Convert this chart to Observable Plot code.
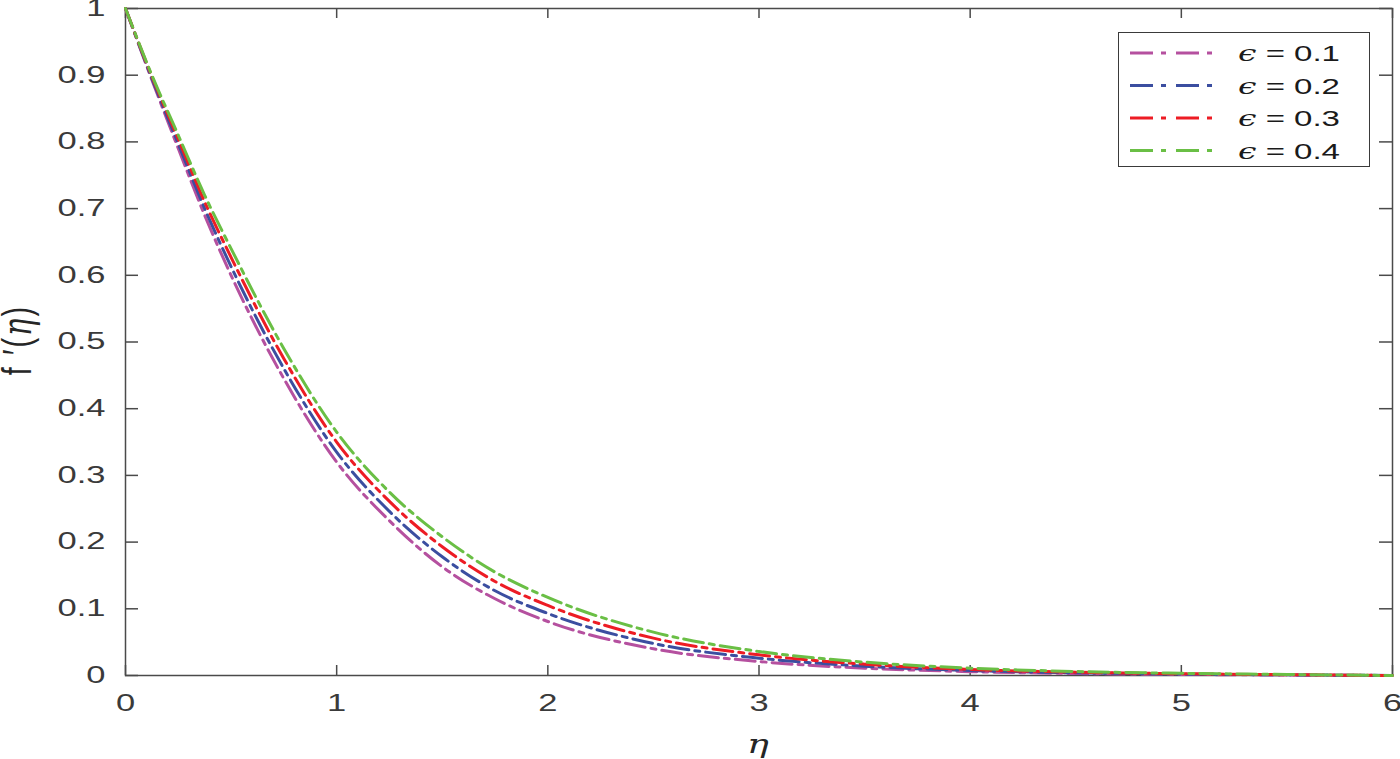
<!DOCTYPE html>
<html>
<head>
<meta charset="utf-8">
<script src="https://cdn.jsdelivr.net/npm/d3@7"></script>
<script src="https://cdn.jsdelivr.net/npm/@observablehq/plot@0.6"></script>
<style>
  body { margin: 0; background: #fff; }
  #wrap { position: relative; width: 1400px; height: 759px; font-family: "Liberation Sans", Arial, sans-serif; }
  #legend { position: absolute; left: 1118px; top: 32px; width: 252px; height: 135px; border: 1.5px solid #3a3a3a; background: #fff; box-sizing: border-box; }
  .ylab { position: absolute; left: 17px; top: 340px; transform: translate(-50%, -50%) scaleX(1.4) rotate(-90deg); font-size: 29px; letter-spacing: 2px; color: #262626; white-space: nowrap; }
  .xlab { position: absolute; left: 758px; top: 744px; transform: translate(-50%, -50%) scaleX(1.4); font-size: 26px; color: #262626; font-family: "DejaVu Serif", serif; font-style: italic; }
</style>
</head>
<body>
<div id="wrap"></div>
<script>
const eta    = [0, 0.125, 0.25, 0.375, 0.5, 0.75, 1.0, 1.25, 1.5, 1.75, 2.0, 2.5, 3.0, 3.5, 4.0, 4.5, 5.0, 5.5, 6.0];
const eps01  = [1, 0.893, 0.790, 0.690, 0.600, 0.445, 0.320, 0.232, 0.163, 0.115, 0.081, 0.040, 0.021, 0.011, 0.0058, 0.0030, 0.0016, 0.0007, 0];
const eps02  = [1, 0.895, 0.797, 0.700, 0.613, 0.460, 0.335, 0.246, 0.178, 0.127, 0.093, 0.048, 0.026, 0.014, 0.0075, 0.0040, 0.0021, 0.0010, 0];
const eps03  = [1, 0.898, 0.804, 0.710, 0.627, 0.475, 0.350, 0.261, 0.193, 0.141, 0.105, 0.056, 0.031, 0.017, 0.0090, 0.0050, 0.0027, 0.0012, 0];
const eps04  = [1, 0.900, 0.810, 0.720, 0.640, 0.490, 0.365, 0.275, 0.208, 0.155, 0.117, 0.065, 0.036, 0.020, 0.0110, 0.0060, 0.0033, 0.0015, 0];
const seriesNames = ["ϵ = 0.1", "ϵ = 0.2", "ϵ = 0.3", "ϵ = 0.4"];
const seriesColors = ["#b5509f", "#3b4ea0", "#ed1c24", "#6abf45"];
const xTicks = [0, 1, 2, 3, 4, 5, 6];
const yTicks = [0, 0.1, 0.2, 0.3, 0.4, 0.5, 0.6, 0.7, 0.8, 0.9, 1];

const allSeries = [eps01, eps02, eps03, eps04];
const rows = [];
allSeries.forEach((vals, s) => vals.forEach((v, i) => rows.push({eta: eta[i], f: v, s: seriesNames[s]})));

const W = 1400, H = 759;
const mL = 125, mR = 8, mT = 8, mB = 84;
const innerH = H - mT - mB, innerW = W - mL - mR;
const axisColor = "#4a4a4a";
const dash = "20,6,5,6";
const stretch = 1.5;

const marks = [
  Plot.frame({stroke: axisColor, strokeWidth: 1.5}),
  Plot.tickX(xTicks, {x: d => d, insetTop: innerH - 10, stroke: axisColor, strokeWidth: 1.5}),
  Plot.tickX(xTicks, {x: d => d, insetBottom: innerH - 10, stroke: axisColor, strokeWidth: 1.5}),
  Plot.tickY(yTicks, {y: d => d, insetRight: innerW - 13, stroke: axisColor, strokeWidth: 1.5}),
  Plot.tickY(yTicks, {y: d => d, insetLeft: innerW - 13, stroke: axisColor, strokeWidth: 1.5}),
  Plot.axisX({ticks: xTicks, tickSize: 0, tickPadding: 19, tickFormat: d => String(d), fontSize: 23, color: "#3a3a3a"}),
  Plot.axisY({ticks: yTicks, tickSize: 0, tickPadding: 20, tickFormat: d => String(d), fontSize: 23, color: "#3a3a3a"}),
];
seriesNames.forEach((name, k) => {
  marks.push(Plot.line(rows.filter(r => r.s === name), {
    x: "eta", y: "f", stroke: seriesColors[k], strokeWidth: 3,
    strokeDasharray: dash, curve: "monotone-x"
  }));
});

const chart = Plot.plot({
  width: W, height: H,
  marginLeft: mL, marginRight: mR, marginTop: mT, marginBottom: mB,
  x: {domain: [0, 6], label: null},
  y: {domain: [0, 1], label: null},
  style: {fontFamily: "'Liberation Sans', Arial, sans-serif", fontSize: "23px", background: "#fff", overflow: "visible"},
  marks
});
const wrap = document.getElementById("wrap");
wrap.appendChild(chart);

// the reference's glyphs are horizontally stretched: widen tick labels via textLength
function widen(el) {
  try {
    const w = el.getComputedTextLength();
    if (w > 0) {
      el.setAttribute("textLength", (w * stretch).toFixed(2));
      el.setAttribute("lengthAdjust", "spacingAndGlyphs");
    }
  } catch (e) {}
}
d3.select(chart).selectAll('g[aria-label="x-axis tick label"] text, g[aria-label="y-axis tick label"] text').each(function() { widen(this); });

// axis labels
const yl = document.createElement("div");
yl.className = "ylab";
yl.innerHTML = 'f \u2032(<span style="font-family:\'DejaVu Serif\',serif;font-style:italic;">η</span>)';
wrap.appendChild(yl);
const xl = document.createElement("div");
xl.className = "xlab";
xl.textContent = "η";
wrap.appendChild(xl);

// legend
const lg = document.createElement("div");
lg.id = "legend";
const ns = "http://www.w3.org/2000/svg";
const lsvg = document.createElementNS(ns, "svg");
lsvg.setAttribute("width", 249); lsvg.setAttribute("height", 132);
lg.appendChild(lsvg);
wrap.appendChild(lg);
seriesNames.forEach((name, k) => {
  const y = 20 + k * 32.5;
  const ln = document.createElementNS(ns, "line");
  ln.setAttribute("x1", 11); ln.setAttribute("x2", 97);
  ln.setAttribute("y1", y); ln.setAttribute("y2", y);
  ln.setAttribute("stroke", seriesColors[k]);
  ln.setAttribute("stroke-width", 3);
  ln.setAttribute("stroke-dasharray", "23,8,5,10");
  lsvg.appendChild(ln);
  const t = document.createElementNS(ns, "text");
  t.setAttribute("x", 119); t.setAttribute("y", y + 8);
  t.setAttribute("font-size", 22);
  t.setAttribute("fill", "#1a1a1a");
  t.setAttribute("font-family", "'Liberation Sans', Arial, sans-serif");
  const e = document.createElementNS(ns, "tspan");
  e.setAttribute("font-family", "'DejaVu Serif', serif");
  e.setAttribute("font-style", "italic");
  e.textContent = "ϵ";
  t.appendChild(e);
  const r = document.createElementNS(ns, "tspan");
  r.textContent = " = " + name.split("= ")[1];
  t.appendChild(r);
  lsvg.appendChild(t);
  widen(t);
});
</script>
</body>
</html>
